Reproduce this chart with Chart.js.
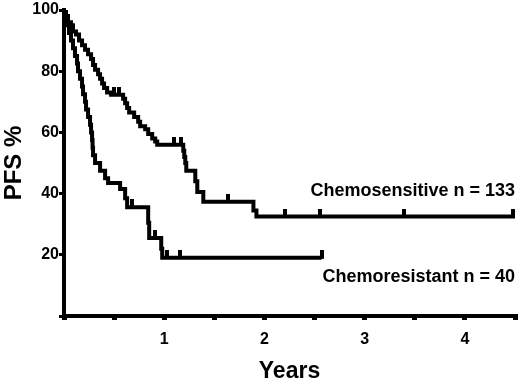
<!DOCTYPE html>
<html>
<head>
<meta charset="utf-8">
<script src="https://cdn.jsdelivr.net/npm/chart.js@4/dist/chart.umd.min.js"></script>
<style>
  html, body { margin: 0; padding: 0; background: #fff; }
  #chart { display: block; }
</style>
</head>
<body>
<canvas id="chart" width="520" height="381"></canvas>
<script>
// Kaplan-Meier steps: time (years) of each event, PFS % after it
var sensTimes = [0, 0.02, 0.04, 0.07, 0.09, 0.12, 0.15, 0.18, 0.21, 0.24, 0.27, 0.29, 0.31, 0.34, 0.36, 0.38, 0.40, 0.43, 0.47,
  0.59, 0.61, 0.63, 0.65, 0.70, 0.74, 0.76, 0.81, 0.84, 0.88, 0.91, 0.93,
  1.19, 1.20, 1.21, 1.22, 1.31, 1.33, 1.39, 1.89, 1.92, 4.5];
var sensValues = [100, 98, 96, 95, 93, 92, 90, 88.5, 87, 85.5, 84, 82, 80.5, 79, 77.5, 76, 74.5, 73, 72.3,
  71, 69.5, 68, 66.5, 65, 63.5, 62, 61, 59.5, 58, 57, 56,
  54, 52, 50, 47.5, 44, 40.5, 37.3, 34.5, 32.5, 32.5];
var sensCensored = [0.50, 0.55, 1.10, 1.17, 1.64, 2.21, 2.55, 3.39, 4.48];

var resTimes = [0, 0.02, 0.04, 0.05, 0.07, 0.09, 0.11, 0.13, 0.14, 0.16, 0.18, 0.19, 0.21, 0.22, 0.24, 0.26, 0.27, 0.28, 0.285,
  0.29, 0.31, 0.36, 0.41, 0.44, 0.56, 0.61, 0.63, 0.84, 0.85, 0.97, 0.98, 2.57];
var resValues = [100, 97.5, 95, 92.5, 90, 87.5, 85, 82.5, 80, 77.5, 75, 72.5, 70, 67.5, 65, 62.5, 60, 57.5, 55,
  52.5, 50, 47.5, 45, 43.5, 41.5, 38.5, 35.5, 30.5, 25.5, 22, 19, 19];
var resCensored = [0.68, 0.91, 1.03, 1.16, 2.57];

var xTicks = [1, 2, 3, 4];
var yTicks = [20, 40, 60, 80, 100];

var sensLabel = "Chemosensitive n = 133";
var resLabel = "Chemoresistant n = 40";

function toPoints(times, values) {
  return times.map(function (t, i) { return { x: t, y: values[i] }; });
}

function survivalAt(times, values, t) {
  var v = values[0];
  for (var i = 0; i < times.length; i++) {
    if (times[i] <= t) v = values[i];
  }
  return v;
}

function censorPoints(cens, times, values) {
  return cens.map(function (t) { return { x: t, y: survivalAt(times, values, t) }; });
}

// small upward tick used for censored cases
var tick = document.createElement("canvas");
tick.width = 4;
tick.height = 16;
var tctx = tick.getContext("2d");
tctx.fillStyle = "#000";
tctx.fillRect(0, 0, 4, 9);

var fontFamily = "'Liberation Sans', Arial, Helvetica, sans-serif";

var curveLabels = {
  id: "curveLabels",
  afterDraw: function (chart) {
    var c = chart.ctx;
    var xs = chart.scales.x;
    var ys = chart.scales.y;
    c.save();
    c.fillStyle = "#000";
    c.font = "bold 18px " + fontFamily;
    c.textAlign = "right";
    c.textBaseline = "middle";
    c.fillText(sensLabel, xs.getPixelForValue(4.5), ys.getPixelForValue(41));
    c.fillText(resLabel, xs.getPixelForValue(4.5), ys.getPixelForValue(12.8));
    c.restore();
  }
};

var ctx = document.getElementById("chart").getContext("2d");

var chart = new Chart(ctx, {
  type: "line",
  data: {
    datasets: [
      {
        label: sensLabel,
        data: toPoints(sensTimes, sensValues),
        stepped: true,
        borderColor: "#000",
        borderWidth: 4,
        pointRadius: 0,
        fill: false,
      },
      {
        label: resLabel,
        data: toPoints(resTimes, resValues),
        stepped: true,
        borderColor: "#000",
        borderWidth: 4,
        pointRadius: 0,
        fill: false,
      },
      {
        type: "scatter",
        data: censorPoints(sensCensored, sensTimes, sensValues)
          .concat(censorPoints(resCensored, resTimes, resValues)),
        pointStyle: tick,
        pointRadius: 2,
        showLine: false,
      },
    ],
  },
  options: {
    responsive: false,
    animation: false,
    layout: { autoPadding: false, padding: { top: 10, right: 5, left: 0, bottom: 0 } },
    plugins: {
      legend: { display: false },
      tooltip: { enabled: false },
    },
    scales: {
      x: {
        type: "linear",
        min: 0,
        max: 4.5,
        afterFit: function (s) {
          s.height = 65;
          s.paddingLeft = 0;
          s.paddingRight = 0;
        },
        border: { display: true, color: "#000", width: 4 },
        grid: { drawOnChartArea: false, color: "#000", lineWidth: 5, tickLength: 4 },
        ticks: {
          stepSize: 0.5,
          autoSkip: false,
          maxRotation: 0,
          padding: 10,
          color: "#000",
          font: { family: fontFamily, size: 16, weight: "bold" },
          callback: function (v) { return xTicks.indexOf(v) >= 0 ? String(v) : ""; },
        },
        title: {
          display: true,
          text: "Years",
          color: "#000",
          font: { family: fontFamily, size: 23, weight: "bold", lineHeight: 0.8 },
          padding: { top: 8, bottom: 0 },
        },
      },
      y: {
        min: 0,
        max: 100,
        afterFit: function (s) {
          s.width = 64;
          s.paddingTop = 0;
          s.paddingBottom = 0;
        },
        border: { display: true, color: "#000", width: 4 },
        grid: { drawOnChartArea: false, color: "#000", lineWidth: 3, tickLength: 5 },
        ticks: {
          stepSize: 20,
          padding: 0,
          color: "#000",
          font: { family: fontFamily, size: 16, weight: "bold" },
          callback: function (v) { return yTicks.indexOf(v) >= 0 ? String(v) : ""; },
        },
        title: {
          display: true,
          text: "PFS %",
          color: "#000",
          font: { family: fontFamily, size: 24, weight: "bold" },
          padding: { top: 0, bottom: 0 },
        },
      },
    },
  },
  plugins: [curveLabels],
});
</script>
</body>
</html>
